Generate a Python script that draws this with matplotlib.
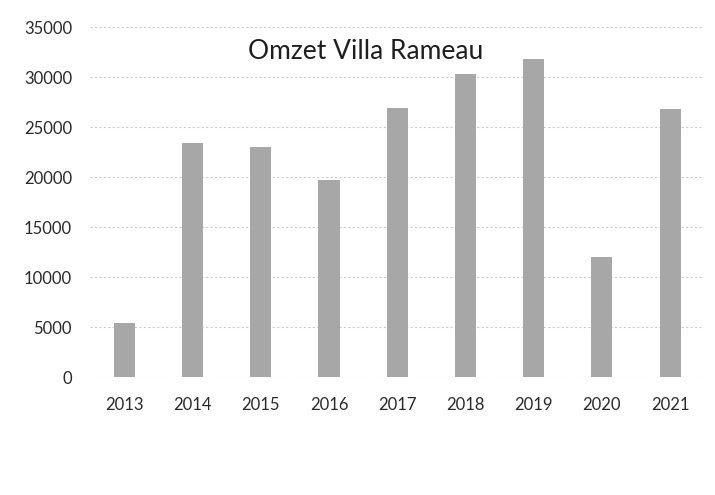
import matplotlib.pyplot as plt
from matplotlib.ticker import MultipleLocator

years = ['2013', '2014', '2015', '2016', '2017', '2018', '2019', '2020', '2021']
omzet = [5400, 23400, 23000, 19700, 26900, 30300, 31800, 12000, 26800]
title = 'Omzet Villa Rameau'

plt.rcParams['font.family'] = ['Lato', 'DejaVu Sans']

fig = plt.figure(figsize=(7.15, 4.95), dpi=100)
ax = fig.add_axes([0.126, 0.238, 0.859, 0.707])

x = range(len(years))
ax.bar(x, omzet, width=0.31, color='#a7a7a7', zorder=2)

ax.set_xlim(-0.5, len(years) - 0.5)
ax.set_ylim(0, 35000)
ax.yaxis.set_major_locator(MultipleLocator(5000))
ax.set_xticks(list(x))
ax.set_xticklabels(years)

ax.grid(axis='y', color='#cccccc', linestyle=(0, (2, 2)), linewidth=0.8, zorder=0)
for s in ax.spines.values():
    s.set_visible(False)
ax.tick_params(length=0, labelsize=12, colors='#2a2a2a')
ax.tick_params(axis='y', pad=13)
ax.tick_params(axis='x', pad=14)

fig.text(0.512, 0.895, title, ha='center', va='center', fontsize=19, color='#1e1e1e')

fig.savefig('out.png', dpi=100)
